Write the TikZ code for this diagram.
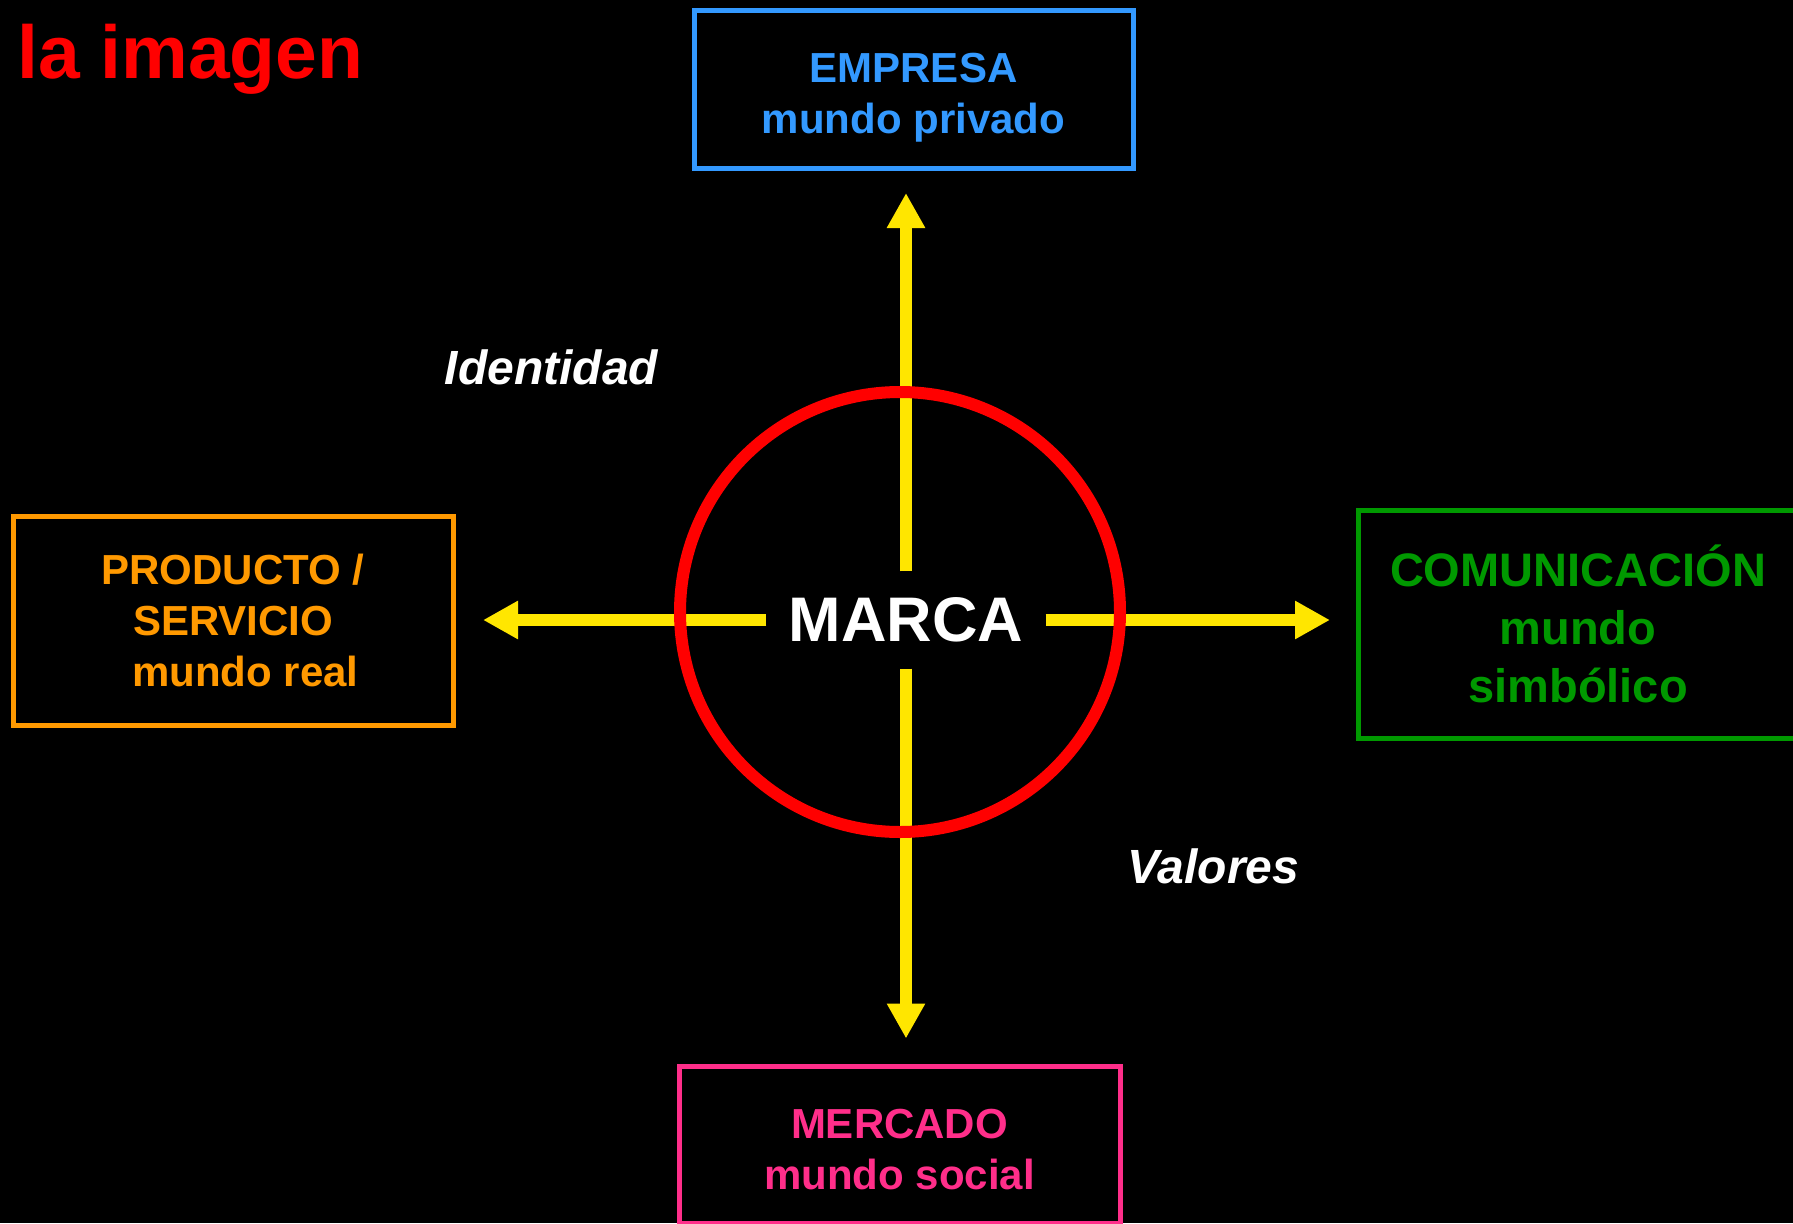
\documentclass[tikz,border=0pt]{standalone}
\usepackage{fontspec}
\setmainfont{Liberation Sans}
\usetikzlibrary{arrows.meta}

\definecolor{azul}{HTML}{3399FF}
\definecolor{naranja}{HTML}{FF9900}
\definecolor{verde}{HTML}{009900}
\definecolor{rosa}{HTML}{FF2E8A}
\definecolor{amarillo}{HTML}{FFE600}

\begin{document}
\begin{tikzpicture}[x = 1pt, y = -1pt,
            caja/.style = {draw, line width = 5pt, outer sep = 0pt, inner sep = 0pt,
                align = center, font = \fontsize{42}{51}\selectfont\bfseries},
            flecha/.style = {amarillo, line width = 12pt,
                -{Triangle[length = 35pt, width = 36pt]}},
            rotulo/.style = {white, inner sep = 0pt, font = \fontsize{48}{56}\selectfont\bfseries\itshape}]
            \fill[black] (0,0) rectangle (1793,1223);
            \useasboundingbox (0,0) rectangle (1793,1223);
            \node[red, anchor = base west, inner sep = 0pt,
                font = \fontsize{75}{90}\selectfont\bfseries] (titulo) at (17,78) {la imagen};
            \node[caja, azul, minimum width = 439pt, minimum height = 157pt,
                text height = 87pt, text depth = 0pt]
                (empresa) at (913.5,89.5) {EMPRESA\\mundo privado};
            \node[caja, naranja, minimum width = 440pt, minimum height = 209pt]
                (producto) at (233,620.5) {PRODUCTO /\\SERVICIO\\\hspace*{25pt}mundo real};
            \node[caja, verde, minimum width = 440pt, minimum height = 228pt,
                font = \fontsize{47}{58}\selectfont\bfseries]
                (comunicacion) at (1578,624) {COMUNICACIÓN\\mundo\\simbólico};
            \node[caja, rosa, minimum width = 441pt, minimum height = 157pt,
                text height = 88pt, text depth = 0pt]
                (mercado) at (899.5,1145) {MERCADO\\mundo social};
            \node[white, minimum width = 279pt, minimum height = 97pt, inner sep = 0pt,
                font = \fontsize{63}{75}\selectfont\bfseries] (marca) at (906,620) {MARCA};
            \draw[flecha, shorten > = 25pt] (marca.north) -- (marca.north |- empresa.south);
            \draw[flecha, shorten > = 28pt] (marca.south) -- (marca.south |- mercado.north);
            \draw[flecha, shorten > = 30pt] (marca.west) -- (marca.west -| producto.east);
            \draw[flecha, shorten > = 28pt] (marca.east) -- (marca.east -| comunicacion.west);
            \node[draw = red, circle, line width = 12pt, minimum size = 440pt, inner sep = 0pt]
                (anillo) at (900,612) {};
            \node[rotulo] (identidad) at (551.5,367) {Identidad};
            \node[rotulo] (valores) at (1213.5,866.5) {Valores};
        \end{tikzpicture}
\end{document}
